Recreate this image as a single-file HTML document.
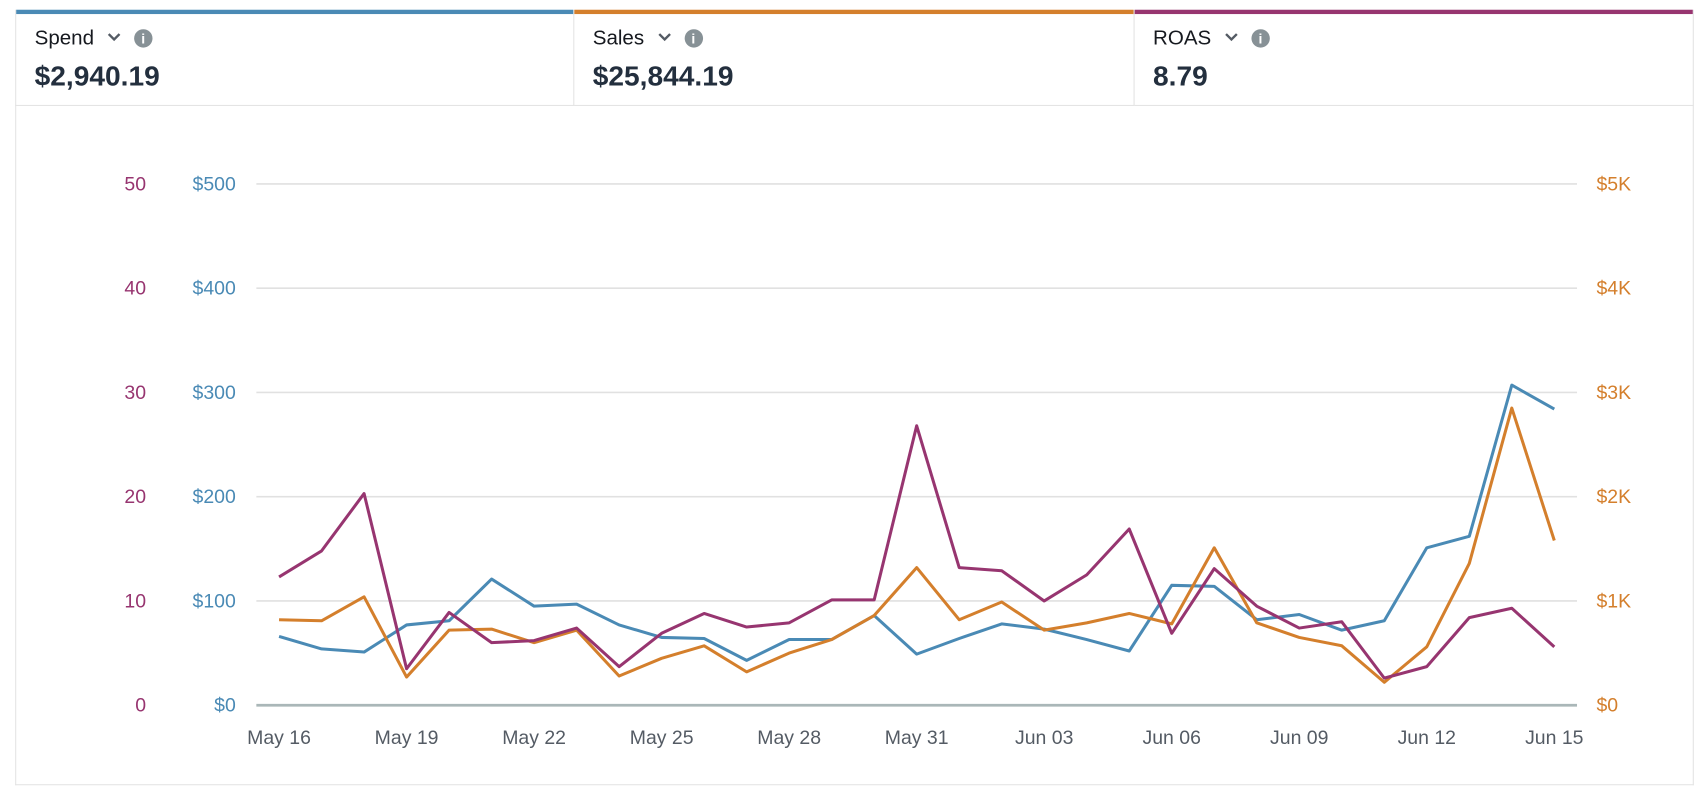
<!DOCTYPE html>
<html><head><meta charset="utf-8"><style>
body{margin:0;background:#fff;font-family:"Liberation Sans",Arial,sans-serif;width:1696px;height:786px;overflow:hidden;position:relative}
#wrap{position:absolute;left:0;top:0;width:1568px;height:727px;transform:scale(1.08163);transform-origin:0 0}
.card{position:absolute;top:9px;height:89px;border-right:1px solid #e4e4e4;border-bottom:1px solid #e4e4e4;box-sizing:border-box}
.bar{position:absolute;left:0;right:0;top:0;height:4px}
.t{position:absolute;left:17px;top:16px;font-size:19px;color:#16191f}
.v{position:absolute;left:17px;top:46px;font-size:26px;font-weight:bold;color:#232f3e}
.chev{display:inline-block;margin-left:12px;vertical-align:2px}
.info{display:inline-block;width:17px;height:17px;border-radius:50%;background:#879196;color:#fff;font-size:13px;font-weight:bold;text-align:center;line-height:17px;margin-left:12px;vertical-align:1px}
</style></head><body>
<div id="wrap">
<div style="position:absolute;left:14px;top:98px;width:1552px;height:628px;border:1px solid #e4e4e4;border-top:none;box-sizing:border-box"></div>
<div class="card" style="left:14px;width:517px;border-left:1px solid #e4e4e4"><div class="bar" style="background:#4a8ab5"></div><div class="t">Spend<svg class="chev" width="13" height="9"><polyline points="1.5,1.5 6.5,6.5 11.5,1.5" fill="none" stroke="#545b64" stroke-width="2.2"/></svg><span class="info">i</span></div><div class="v">$2,940.19</div></div>
<div class="card" style="left:531px;width:518px"><div class="bar" style="background:#d47f2c"></div><div class="t">Sales<svg class="chev" width="13" height="9"><polyline points="1.5,1.5 6.5,6.5 11.5,1.5" fill="none" stroke="#545b64" stroke-width="2.2"/></svg><span class="info">i</span></div><div class="v">$25,844.19</div></div>
<div class="card" style="left:1049px;width:517px"><div class="bar" style="background:#973570"></div><div class="t">ROAS<svg class="chev" width="13" height="9"><polyline points="1.5,1.5 6.5,6.5 11.5,1.5" fill="none" stroke="#545b64" stroke-width="2.2"/></svg><span class="info">i</span></div><div class="v">8.79</div></div>
<svg id="c" width="1568" height="727" style="position:absolute;left:0;top:0" font-family="Liberation Sans, Arial, sans-serif" font-size="18"></svg>
</div>
<script>
const dateLabels=["May 16","May 19","May 22","May 25","May 28","May 31","Jun 03","Jun 06","Jun 09","Jun 12","Jun 15"];
const spend=[66,54,51,77,81,121,95,97,77,65,64,43,63,63,86,49,64,78,73,63,52,115,114,82,87,72,81,151,162,307,284];
const sales=[820,810,1040,270,720,730,600,720,280,450,570,320,500,630,860,1320,820,990,720,790,880,780,1510,790,650,570,220,560,1360,2850,1580];
const roas=[12.3,14.8,20.3,3.5,8.9,6.0,6.2,7.4,3.7,6.9,8.8,7.5,7.9,10.1,10.1,26.8,13.2,12.9,10.0,12.5,16.9,6.9,13.1,9.5,7.4,8.0,2.6,3.7,8.4,9.3,5.6];
const roasTicks=[0,10,20,30,40,50];
const spendTicks=["$0","$100","$200","$300","$400","$500"];
const salesTicks=["$0","$1K","$2K","$3K","$4K","$5K"];
const svg=document.getElementById('c');const NS='http://www.w3.org/2000/svg';
const X0=258,X1=1437,Y0=652,Y1=170;
const x=i=>X0+(X1-X0)*i/(spend.length-1);
const yR=v=>Y0-(Y0-Y1)*v/50,yS=v=>Y0-(Y0-Y1)*v/500,yK=v=>Y0-(Y0-Y1)*v/5000;
function mk(t,a,txt){const e=document.createElementNS(NS,t);for(const k in a)e.setAttribute(k,a[k]);if(txt!==undefined)e.textContent=txt;svg.appendChild(e);return e;}
roasTicks.forEach((t,i)=>{const y=yR(t);
const g=mk('line',{x1:237,x2:1458,y1:y,y2:y,stroke:i==0?'#aab7b8':'#e1e1e1','stroke-width':i==0?2.5:1.5});


const a=mk('text',{x:135,y:y+6,fill:'#973570','text-anchor':'end'},t);


const b=mk('text',{x:218,y:y+6,fill:'#4a8ab5','text-anchor':'end'},spendTicks[i]);


const c=mk('text',{x:1476,y:y+6,fill:'#d47f2c'},salesTicks[i]);

});
dateLabels.forEach((d,i)=>{const xx=x(i*3);
const t=mk('text',{x:xx,y:688,fill:'#545b64','text-anchor':'middle'},d);

});
function line(arr,fy,col,name){const p=mk('polyline',{points:arr.map((v,i)=>x(i)+','+fy(v)).join(' '),fill:'none',stroke:col,'stroke-width':2.8,'stroke-linejoin':'round'});

}
line(spend,yS,'#4a8ab5','spend-line');
line(sales,yK,'#d47f2c','sales-line');
line(roas,yR,'#973570','roas-line');
</script></body></html>
